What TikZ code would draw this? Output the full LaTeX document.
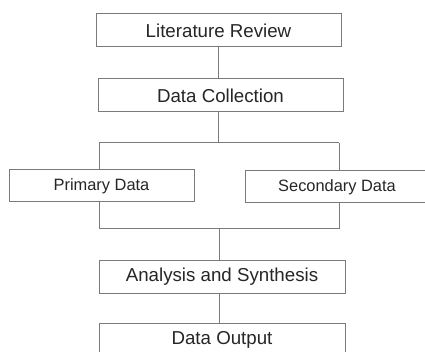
\documentclass[tikz,border=0pt]{standalone}
\usepackage{fontspec}
\setmainfont{Liberation Sans}
\definecolor{edge}{HTML}{7A7A7A}
\definecolor{ink}{HTML}{262626}
\begin{document}
\begin{tikzpicture}[x=1pt,y=-1pt,
  box/.style={draw=edge,line width=1pt,fill=white,text=ink,inner sep=0pt,
    minimum height=33pt,font=\fontsize{18.7}{20}\selectfont},
  smallbox/.style={box,minimum height=32pt,font=\fontsize{16.4}{18}\selectfont},
  link/.style={draw=edge,line width=1pt}]
\useasboundingbox (0,0) rectangle (425,352);
\clip (0,0) rectangle (425,352);
\fill[white] (0,0) rectangle (425,352);

% main column
\node[box,minimum width=245pt] (lit) at (218.5,30.5) {Literature Review};
\node[box,minimum width=245pt] (col) at (220.5,95.5) {Data Collection};
\node[smallbox,minimum width=185pt] (pri) at (101.5,186) {Primary Data};
\node[smallbox,minimum width=184pt] (sec) at (337,187) {Secondary Data};
\node[box,minimum width=246pt,minimum height=32pt] (ana) at (222,277) {Analysis and Synthesis};
\node[box,minimum width=246pt] (out) at (222,339.5) {Data Output};

% branching points
\coordinate (split) at (218,143);
\coordinate (sl) at (99,143);
\coordinate (sr) at (339,143);
\coordinate (jl) at (99,229);
\coordinate (jr) at (339,229);
\coordinate (join) at (219,229);

\draw[link] (lit.south -| split) -- (col.north -| split);
\draw[link] (col.south -| split) -- (split);
\draw[link] (sl) -- (sr);
\draw[link] (sl) -- (sl |- pri.north);
\draw[link] (sr) -- (sr |- sec.north);
\draw[link] (jl |- pri.south) -- (jl) -- (jr) -- (jr |- sec.south);
\draw[link] (join) -- (join |- ana.north);
\draw[link] (ana.south -| join) -- (out.north -| join);
\end{tikzpicture}
\end{document}
